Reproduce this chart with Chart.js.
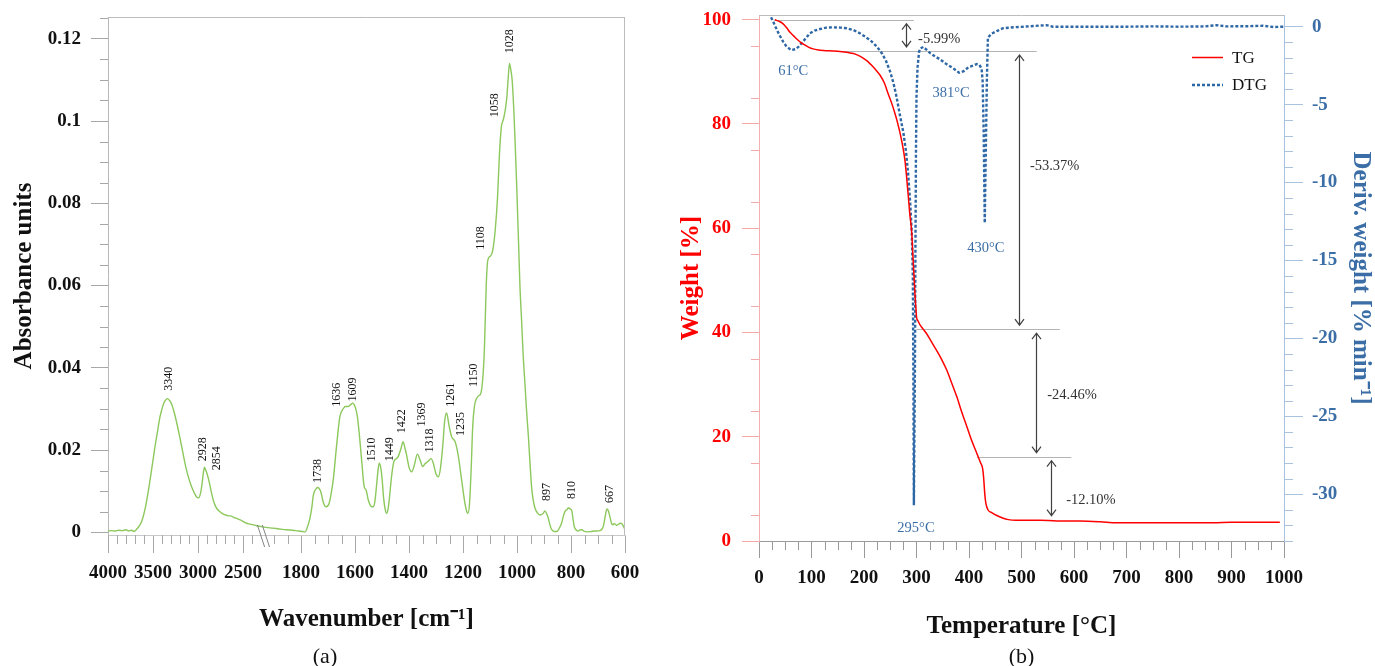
<!DOCTYPE html>
<html>
<head>
<meta charset="utf-8">
<script src="https://cdn.jsdelivr.net/npm/chart.js@4.4.1/dist/chart.umd.min.js"></script>
<style>
  body { margin: 0; background: #fff; }
  #ftir { position: absolute; left: 0; top: 0; }
  #tga { position: absolute; left: 650px; top: 0; }
</style>
</head>
<body>
<canvas id="ftir" width="650" height="666"></canvas>
<canvas id="tga" width="725" height="666"></canvas>
<script>
// ---------- (a) FTIR spectrum ----------
const wavenumbers = [
  4000, 3960, 3920, 3880, 3840, 3800, 3770, 3740, 3710, 3680, 3650, 3620, 3590, 3560, 3533, 3505,
  3478, 3450, 3422, 3400, 3385, 3365, 3340, 3315, 3293, 3265, 3237, 3209, 3181, 3154, 3126, 3098,
  3070, 3042, 3015, 2990, 2972, 2955, 2940, 2928, 2912, 2896, 2875, 2856, 2835, 2811, 2785, 2756,
  2720, 2690, 2660, 2637, 2600, 2570, 2530, 2496, 2460, 2422, 2385, 2348, 2300,
  1930, 1904, 1880, 1853, 1830, 1810, 1795, 1785, 1775, 1767, 1760, 1754, 1746, 1738, 1727, 1717,
  1707, 1696, 1688, 1680, 1668, 1656, 1643, 1636, 1625, 1615, 1609, 1600, 1592, 1585, 1575, 1566,
  1559, 1551, 1540, 1533, 1527, 1520, 1514, 1510, 1504, 1499, 1494, 1488, 1483, 1478, 1474, 1464,
  1456, 1449, 1440, 1430, 1422, 1415, 1409, 1399, 1390, 1380, 1369, 1359, 1349, 1340, 1330, 1318,
  1310, 1300, 1291, 1283, 1275, 1268, 1261, 1251, 1242, 1235, 1228, 1217, 1205, 1193, 1186, 1182,
  1176, 1170, 1164, 1158, 1150, 1140, 1133, 1121, 1114, 1108, 1098, 1090, 1080, 1072, 1065, 1058,
  1050, 1044, 1038, 1033, 1028, 1023, 1018, 1012, 1007, 1001, 995, 989, 983, 977, 970, 964,
  958, 952, 946, 940, 933, 925, 915, 903, 897, 890, 884, 878, 872, 862, 853, 845,
  835, 828, 822, 815, 810, 803, 797, 792, 788, 780, 773, 765, 760, 750, 742, 725,
  710, 693, 685, 680, 673, 667, 662, 656, 650, 646, 641, 637, 631, 625, 618, 612,
  606, 600
];
const absorbance = [
  0.0003, 0.0004, 0.0003, 0.0005, 0.0004, 0.0006, 0.0003, 0.0005, 0.0002, 0.0008, 0.0016, 0.0030, 0.0055, 0.0090, 0.0127, 0.0168,
  0.0208, 0.0245, 0.0281, 0.0300, 0.0311, 0.0320, 0.0325, 0.0320, 0.0312, 0.0292, 0.0267, 0.0238, 0.0208, 0.0178, 0.0150, 0.0128,
  0.0110, 0.0096, 0.0086, 0.0084, 0.0095, 0.0118, 0.0145, 0.0158, 0.0150, 0.0140, 0.0122, 0.0102, 0.0082, 0.0066, 0.0056, 0.0050,
  0.0044, 0.0042, 0.0040, 0.0040, 0.0036, 0.0034, 0.0030, 0.0026, 0.0022, 0.0020, 0.0018, 0.0016, 0.0014,
  0.0012, 0.0010, 0.0008, 0.0006, 0.0005, 0.0003, 0.0002, 0.0001, 0.0015, 0.0034, 0.0060, 0.0091, 0.0104, 0.0109, 0.0099, 0.0072,
  0.0062, 0.0070, 0.0095, 0.0131, 0.0212, 0.0281, 0.0301, 0.0306, 0.0306, 0.0311, 0.0314, 0.0306, 0.0285, 0.0245, 0.0172, 0.0111,
  0.0103, 0.0079, 0.0063, 0.0062, 0.0072, 0.0115, 0.0155, 0.0168, 0.0155, 0.0125, 0.0083, 0.0055, 0.0046, 0.0055, 0.0074, 0.0139,
  0.0172, 0.0178, 0.0184, 0.0203, 0.0220, 0.0205, 0.0188, 0.0156, 0.0147, 0.0164, 0.0190, 0.0176, 0.0160, 0.0167, 0.0172, 0.0179,
  0.0168, 0.0142, 0.0135, 0.0158, 0.0210, 0.0270, 0.0290, 0.0257, 0.0232, 0.0226, 0.0218, 0.0184, 0.0127, 0.0071, 0.0050, 0.0046,
  0.0068, 0.0150, 0.0257, 0.0305, 0.0325, 0.0333, 0.0340, 0.0440, 0.0600, 0.0662, 0.0672, 0.0685, 0.0740, 0.0816, 0.0920, 0.0985,
  0.1005, 0.1025, 0.1055, 0.1100, 0.1140, 0.1125, 0.1100, 0.1030, 0.0950, 0.0840, 0.0720, 0.0597, 0.0515, 0.0430, 0.0355, 0.0290,
  0.0235, 0.0170, 0.0111, 0.0078, 0.0058, 0.0048, 0.0042, 0.0046, 0.0052, 0.0045, 0.0034, 0.0018, 0.0007, 0.0002, 0.0002, 0.0008,
  0.0022, 0.0040, 0.0051, 0.0055, 0.0059, 0.0057, 0.0052, 0.0030, 0.0014, 0.0005, 0.0003, 0.0006, 0.0006, 0.0002, 0.0001, 0.0002,
  0.0003, 0.0004, 0.0008, 0.0015, 0.0040, 0.0057, 0.0053, 0.0038, 0.0022, 0.0018, 0.0021, 0.0020, 0.0017, 0.0019, 0.0022, 0.0021,
  0.0015, 0.0006
];
const peakLabels = [3340, 2928, 2854, 1738, 1636, 1609, 1510, 1449, 1422, 1369, 1318, 1261, 1235, 1150, 1108, 1058, 1028, 897, 810, 667];
const wnMajorTicks = [4000, 3500, 3000, 2500, 1800, 1600, 1400, 1200, 1000, 800, 600];
const absTicks = [0, 0.02, 0.04, 0.06, 0.08, 0.1, 0.12];

// ---------- (b) TG / DTG ----------
const tgTemp = [30, 40, 46, 53, 59, 66, 72, 80, 88, 95, 103, 113, 123, 140, 154, 170, 180, 190, 199, 207,
  215, 223, 231, 239, 246, 253, 259, 264, 269, 274, 278, 281, 284, 287, 291, 293, 295, 297, 299, 300,
  303, 307, 313, 319, 328, 338, 348, 358, 367, 377, 386, 396, 405, 415, 422, 426, 428, 430, 432, 436,
  444, 453, 464, 475, 490, 504, 535, 567, 611, 650, 681, 750, 865, 900, 992];
const tgWeight = [100.0, 99.6, 99.2, 98.4, 97.6, 96.9, 96.3, 95.6, 95.1, 94.7, 94.4, 94.2, 94.1, 94.0, 93.9, 93.7, 93.5, 93.1, 92.6, 92.0,
  91.2, 90.3, 89.3, 87.8, 85.8, 83.9, 82.0, 80.2, 78.1, 75.6, 73.0, 70.0, 66.6, 63.0, 59.0, 55.0, 51.3, 47.5, 44.5, 43.0,
  42.2, 41.4, 40.6, 39.8, 38.3, 36.6, 34.8, 32.7, 30.3, 27.6, 24.8, 21.9, 19.3, 16.8, 15.0, 13.9, 12.0, 9.1, 7.3, 6.0,
  5.4, 4.9, 4.4, 4.1, 4.0, 4.0, 4.0, 3.85, 3.84, 3.7, 3.5, 3.5, 3.5, 3.6, 3.6];
const dtgTemp = [23, 28, 34, 40, 46, 52, 61, 69, 75, 81, 89, 97, 106, 116, 128, 142, 155, 167, 180, 192,
  204, 215, 225, 234, 242, 250, 256, 262, 268, 275, 280, 284, 288, 291, 293, 294, 295, 297, 298, 299,
  300, 302, 305, 307, 313, 320, 326, 335, 345, 357, 370, 381, 390, 399, 408, 415, 420, 424, 426, 428,
  430, 432, 434, 436, 443, 455, 465, 480, 504, 525, 548, 560, 600, 650, 700, 750, 800, 850, 872, 890,
  930, 960, 980, 1000];
const dtgRate = [0.6, 0.25, -0.2, -0.6, -0.96, -1.25, -1.5, -1.45, -1.3, -1.06, -0.75, -0.42, -0.25, -0.15, -0.06, -0.04, -0.06, -0.1, -0.22, -0.42,
  -0.68, -0.96, -1.3, -1.7, -2.2, -2.9, -3.6, -4.5, -5.6, -6.8, -8.0, -9.4, -11.3, -13.2, -16.0, -22.0, -30.7, -22.0, -14.0, -8.0,
  -4.5, -2.6, -1.6, -1.4, -1.3, -1.5, -1.7, -1.9, -2.1, -2.4, -2.67, -2.95, -2.85, -2.6, -2.5, -2.4, -2.45, -2.7, -3.5, -6.8,
  -12.6, -8.0, -3.5, -0.7, -0.45, -0.25, -0.1, -0.05, 0.0, 0.05, 0.1, 0.0, 0.0, 0.0, 0.0, 0.02, 0.0, 0.02, 0.1, 0.02,
  0.03, 0.06, -0.02, 0.0];
const stepLosses = [-5.99, -53.37, -24.46, -12.10];
const dtgPeaks = [61, 295, 381, 430];

Chart.defaults.font.family = '"Liberation Serif", "Times New Roman", serif';
Chart.defaults.color = '#111';

// broken wavenumber axis: 4000-2300 compressed, 1930-600 expanded
function wnToU(wn) {
  return wn > 2100 ? (4000 - wn) * 0.09 : 193 + (1800 - wn) * 0.27;
}

function range(from, to, step) {
  const out = [];
  for (let v = from; step > 0 ? v <= to + 1e-9 : v >= to - 1e-9; v += step) out.push(+v.toFixed(4));
  return out;
}

// fixed axis box sizes, and no extra room reserved for overhanging tick labels
function fixWidth(w) {
  return s => { s.width = w; s.paddingTop = 0; s.paddingBottom = 0; };
}
function fixHeight(h) {
  return s => { s.height = h; s.paddingLeft = 0; s.paddingRight = 0; };
}

// short unlabeled tick marks between the major ones
function minorTicks(items) {
  return {
    id: 'minorTicks',
    afterDraw(chart) {
      const ctx = chart.ctx;
      ctx.save();
      ctx.lineWidth = 1;
      items.forEach(it => {
        const s = chart.scales[it.axis];
        ctx.strokeStyle = it.color;
        ctx.beginPath();
        it.values.forEach(v => {
          const p = Math.round(s.getPixelForValue(v)) + 0.5;
          if (s.position === 'bottom') { ctx.moveTo(p, s.top); ctx.lineTo(p, s.top + it.length); }
          else if (s.position === 'left') { ctx.moveTo(s.right, p); ctx.lineTo(s.right - it.length, p); }
          else { ctx.moveTo(s.left, p); ctx.lineTo(s.left + it.length, p); }
        });
        ctx.stroke();
      });
      ctx.restore();
    }
  };
}

function frame(sides, color) {
  return {
    id: 'frame',
    afterDraw(chart) {
      const { ctx, chartArea: a } = chart;
      ctx.save();
      ctx.strokeStyle = color;
      ctx.lineWidth = 1;
      ctx.beginPath();
      if (sides.includes('top')) { ctx.moveTo(a.left, a.top + 0.5); ctx.lineTo(a.right, a.top + 0.5); }
      if (sides.includes('right')) { ctx.moveTo(a.right - 0.5, a.top); ctx.lineTo(a.right - 0.5, a.bottom); }
      ctx.stroke();
      ctx.restore();
    }
  };
}

function caption(text, centerOn) {
  return {
    id: 'caption',
    afterDraw(chart) {
      const { ctx, chartArea: a } = chart;
      ctx.save();
      ctx.font = '22px "Liberation Serif"';
      ctx.fillStyle = '#111';
      ctx.textAlign = 'center';
      ctx.textBaseline = 'middle';
      const cx = centerOn === 'canvas' ? chart.width / 2 : (a.left + a.right) / 2;
      ctx.fillText(text, cx, 657);
      ctx.restore();
    }
  };
}

// where each band label sits: horizontal nudge (px) and the absorbance of its lower end
const peakLabelPos = [
  { dx: 1, y: 0.0344 }, { dx: -2, y: 0.0173 }, { dx: 6, y: 0.0151 }, { dx: 0, y: 0.0120 },
  { dx: -8, y: 0.0305 }, { dx: 0, y: 0.0318 }, { dx: -7, y: 0.0172 }, { dx: -6, y: 0.0173 },
  { dx: -1, y: 0.0241 }, { dx: 4, y: 0.0257 }, { dx: -1, y: 0.0194 }, { dx: 4, y: 0.0305 },
  { dx: 7, y: 0.0234 }, { dx: -3, y: 0.0353 }, { dx: -7, y: 0.0687 }, { dx: -6, y: 0.1009 },
  { dx: 0, y: 0.1165 }, { dx: 2, y: 0.0076 }, { dx: 4, y: 0.0081 }, { dx: 3, y: 0.0071 }
];

const bandLabels = {
  id: 'bandLabels',
  afterDatasetsDraw(chart) {
    const { ctx, scales: { x, y } } = chart;
    ctx.save();
    ctx.font = '12px "Liberation Serif"';
    ctx.fillStyle = '#111';
    ctx.textAlign = 'left';
    ctx.textBaseline = 'middle';
    peakLabels.forEach((wn, i) => {
      const px = x.getPixelForValue(wnToU(wn)) + peakLabelPos[i].dx;
      const py = y.getPixelForValue(peakLabelPos[i].y);
      ctx.save();
      ctx.translate(px, py);
      ctx.rotate(-Math.PI / 2);
      ctx.fillText(String(wn), 0, 0);
      ctx.restore();
    });
    ctx.restore();
  }
};

// the two slashes marking the gap in the wavenumber axis
const axisBreak = {
  id: 'axisBreak',
  afterDraw(chart) {
    const { ctx, scales: { x } } = chart;
    ctx.save();
    ctx.strokeStyle = '#777';
    ctx.lineWidth = 0.9;
    ctx.beginPath();
    [2300, 1930].forEach(wn => {
      const px = x.getPixelForValue(wnToU(wn));
      ctx.moveTo(px - 3.6, x.top - 10);
      ctx.lineTo(px + 3.6, x.top + 12);
    });
    ctx.stroke();
    ctx.restore();
  }
};

new Chart(document.getElementById('ftir'), {
  type: 'line',
  data: {
    datasets: [{
      data: wavenumbers.map((w, i) => ({ x: wnToU(w), y: absorbance[i] })),
      borderColor: '#8cc85c',
      borderWidth: 1.4,
      pointRadius: 0,
      cubicInterpolationMode: 'monotone'
    }]
  },
  options: {
    responsive: false,
    animation: false,
    devicePixelRatio: 1,
    layout: { padding: { top: 17, right: 25, left: 0, bottom: 0 } },
    plugins: { legend: { display: false }, tooltip: { enabled: false } },
    scales: {
      x: {
        type: 'linear',
        min: 0,
        max: wnToU(600),
        afterBuildTicks: s => { s.ticks = wnMajorTicks.map(w => ({ value: wnToU(w) })); },
        afterFit: fixHeight(131),
        ticks: { autoSkip: false, maxRotation: 0, padding: 9, color: '#111', font: { size: 19, weight: 'bold' },
                 callback: (v, i) => String(wnMajorTicks[i]) },
        grid: { drawOnChartArea: false, tickLength: 18, color: '#a8a8a8' },
        border: { color: '#c8c8c8' },
        title: { display: true, text: 'Wavenumber [cm⁻¹]', color: '#111', font: { size: 25, weight: 'bold' },
                 padding: { top: 0, bottom: 31 } }
      },
      y: {
        min: -0.00066,
        max: 0.1253,
        afterBuildTicks: s => { s.ticks = absTicks.map(v => ({ value: v })); },
        afterFit: fixWidth(108),
        ticks: { padding: 10, color: '#111', font: { size: 19, weight: 'bold' },
                 callback: v => v === 0 ? '0' : String(parseFloat(v.toFixed(2))) },
        grid: { drawOnChartArea: false, tickLength: 17, color: '#a8a8a8' },
        border: { color: '#b8b8b8' },
        title: { display: true, text: 'Absorbance units', color: '#111', font: { size: 25, weight: 'bold' },
                 padding: { top: 10, bottom: 0 } }
      }
    }
  },
  plugins: [
    minorTicks([
      { axis: 'x', values: range(3900, 2400, -100).filter(w => w % 500 !== 0).map(wnToU)
          .concat(range(1900, 650, -50).filter(w => w % 200 !== 0).map(wnToU)), length: 9, color: '#a8a8a8' },
      { axis: 'y', values: range(0.005, 0.125, 0.005).filter(v => Math.round(v * 1000) % 20 !== 0), length: 8, color: '#a8a8a8' }
    ]),
    frame(['top', 'right'], '#bcbcbc'),
    bandLabels,
    axisBreak,
    caption('(a)', 'canvas')
  ]
});

// ---------- (b) ----------
const blue = '#2e67a5';
const blueText = '#3b6ea6';

// weight levels bounding each mass-loss step
const stepLevels = stepLosses.reduce((lv, d) => lv.concat(+(lv[lv.length - 1] + d).toFixed(2)), [100]);

const tgaLayout = {
  lineSpan: [[30, 295], [145, 529], [300, 573], [415, 595]],
  arrowT: [280, 496, 528, 557],
  lossText: [{ t: 303, w: 96.2 }, { t: 516, w: 71.9 }, { t: 549, w: 27.9 }, { t: 585, w: 7.8 }],
  peakText: [{ t: 65, d: -2.84 }, { t: 299, d: -32.15 }, { t: 366, d: -4.27 }, { t: 432, d: -14.2 }]
};

function doubleArrow(ctx, x, y1, y2) {
  ctx.beginPath();
  ctx.moveTo(x, y1); ctx.lineTo(x, y2);
  ctx.moveTo(x - 4.5, y1 + 6); ctx.lineTo(x, y1); ctx.lineTo(x + 4.5, y1 + 6);
  ctx.moveTo(x - 4.5, y2 - 6); ctx.lineTo(x, y2); ctx.lineTo(x + 4.5, y2 - 6);
  ctx.stroke();
}

const massSteps = {
  id: 'massSteps',
  beforeDatasetsDraw(chart) {
    const { ctx, scales: { x, y } } = chart;
    ctx.save();
    ctx.strokeStyle = '#b4b4b4';
    ctx.lineWidth = 1.2;
    tgaLayout.lineSpan.forEach((sp, i) => {
      const py = Math.round(y.getPixelForValue(stepLevels[i])) + 0.5;
      ctx.beginPath();
      ctx.moveTo(x.getPixelForValue(sp[0]), py);
      ctx.lineTo(x.getPixelForValue(sp[1]), py);
      ctx.stroke();
    });
    ctx.restore();
  },
  afterDatasetsDraw(chart) {
    const { ctx, scales: { x, y, y2 } } = chart;
    ctx.save();
    ctx.strokeStyle = '#404040';
    ctx.lineWidth = 1.2;
    stepLosses.forEach((loss, i) => {
      const px = Math.round(x.getPixelForValue(tgaLayout.arrowT[i])) + 0.5;
      doubleArrow(ctx, px, y.getPixelForValue(stepLevels[i]) + 4, y.getPixelForValue(stepLevels[i + 1]) - 4);
    });
    ctx.font = '14.5px "Liberation Serif"';
    ctx.fillStyle = '#333';
    ctx.textAlign = 'left';
    ctx.textBaseline = 'middle';
    stepLosses.forEach((loss, i) => {
      const p = tgaLayout.lossText[i];
      ctx.fillText(loss.toFixed(2) + '%', x.getPixelForValue(p.t), y.getPixelForValue(p.w));
    });
    ctx.fillStyle = blueText;
    ctx.textAlign = 'center';
    dtgPeaks.forEach((t, i) => {
      const p = tgaLayout.peakText[i];
      ctx.fillText(t + '°C', x.getPixelForValue(p.t), y2.getPixelForValue(p.d));
    });
    ctx.restore();
  }
};

const seriesKey = {
  id: 'seriesKey',
  afterDraw(chart) {
    const { ctx, chartArea: a } = chart;
    ctx.save();
    ctx.font = '17px "Liberation Serif"';
    ctx.fillStyle = '#111';
    ctx.textAlign = 'left';
    ctx.textBaseline = 'middle';
    chart.data.datasets.forEach((ds, i) => {
      const py = a.top + 42.5 + i * 27.5;
      ctx.strokeStyle = ds.borderColor;
      ctx.lineWidth = ds.borderWidth;
      ctx.setLineDash(ds.borderDash || []);
      ctx.beginPath();
      ctx.moveTo(a.right - 92, py);
      ctx.lineTo(a.right - 61, py);
      ctx.stroke();
      ctx.setLineDash([]);
      ctx.fillText(ds.label, a.right - 52, py + 1);
    });
    ctx.restore();
  }
};

new Chart(document.getElementById('tga'), {
  type: 'line',
  data: {
    datasets: [{
      label: 'TG',
      data: tgTemp.map((t, i) => ({ x: t, y: tgWeight[i] })),
      yAxisID: 'y',
      borderColor: '#ff0000',
      borderWidth: 1.5,
      pointRadius: 0,
      cubicInterpolationMode: 'monotone'
    }, {
      label: 'DTG',
      data: dtgTemp.map((t, i) => ({ x: t, y: dtgRate[i] })),
      yAxisID: 'y2',
      borderColor: blue,
      borderWidth: 2.4,
      borderDash: [3, 2],
      pointRadius: 0,
      tension: 0
    }]
  },
  options: {
    responsive: false,
    animation: false,
    devicePixelRatio: 1,
    layout: { padding: { top: 15, right: 0, left: 0, bottom: 0 } },
    plugins: { legend: { display: false }, tooltip: { enabled: false } },
    scales: {
      x: {
        type: 'linear',
        min: 0,
        max: 1000,
        afterFit: fixHeight(125),
        ticks: { stepSize: 100, autoSkip: false, maxRotation: 0, padding: 9, color: '#111',
                 font: { size: 19, weight: 'bold' }, callback: v => String(v) },
        grid: { drawOnChartArea: false, tickLength: 17, color: '#9a9a9a' },
        border: { color: '#9a9a9a' },
        title: { display: true, text: 'Temperature [°C]', color: '#111', font: { size: 25, weight: 'bold' },
                 padding: { top: 0, bottom: 24 } }
      },
      y: {
        position: 'left',
        min: 0,
        max: 100.9,
        afterBuildTicks: s => { s.ticks = range(0, 100, 20).map(v => ({ value: v })); },
        afterFit: fixWidth(109),
        ticks: { padding: 11, color: '#ff0000', font: { size: 19, weight: 'bold' } },
        grid: { drawOnChartArea: false, tickLength: 17, color: '#f6a8a8' },
        border: { color: '#f3b0b0' },
        title: { display: true, text: 'Weight [%]', color: '#ff0000', font: { size: 25, weight: 'bold' },
                 padding: { top: 27, bottom: 0 } }
      },
      y2: {
        position: 'right',
        min: -33,
        max: 0.75,
        afterBuildTicks: s => { s.ticks = range(-30, 0, 5).map(v => ({ value: v })); },
        afterFit: fixWidth(91),
        ticks: { padding: 9, color: blueText, font: { size: 19, weight: 'bold' } },
        grid: { drawOnChartArea: false, tickLength: 19, color: '#a9c3df' },
        border: { color: '#a9c3df' },
        title: { display: true, text: 'Deriv. weight [% min⁻¹]', color: blueText, font: { size: 25, weight: 'bold' },
                 padding: { top: 0, bottom: 0 } }
      }
    }
  },
  plugins: [
    minorTicks([
      { axis: 'x', values: range(25, 975, 25).filter(v => v % 100 !== 0), length: 9, color: '#9a9a9a' },
      { axis: 'y', values: range(5, 95, 10), length: 8, color: '#f6a8a8' },
      { axis: 'y2', values: range(-33, 0, 1).filter(v => v % 5 !== 0), length: 9, color: '#a9c3df' }
    ]),
    frame(['top'], '#bcbcbc'),
    massSteps,
    seriesKey,
    caption('(b)', 'area')
  ]
});
</script>
</body>
</html>
